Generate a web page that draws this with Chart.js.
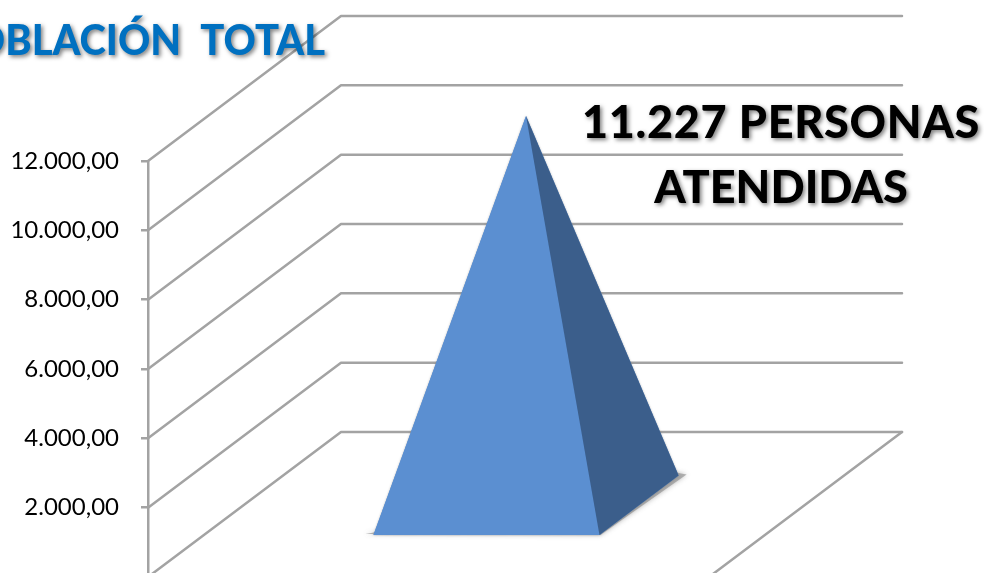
<!DOCTYPE html>
<html><head><meta charset="utf-8">
<style>html,body{margin:0;padding:0;background:#fff;overflow:hidden;width:984px;height:573px}
canvas{display:block}</style>
<script src="https://cdn.jsdelivr.net/npm/chart.js@4"></script>
</head><body><canvas id="c" width="984" height="573"></canvas>
<script>
const categories = ["Población total"];
const values = [11227];
const tickValues = [0, 2000, 4000, 6000, 8000, 10000, 12000];
const titleText = "POBLACIÓN  TOTAL";
const noteLines = ["11.227 PERSONAS", "ATENDIDAS"];
const gridColor = "#a3a3a3";
const depth = {dx: 193, dy: -145};
const baseDepth = [0.29, 0.7];
const axisMin = 115;
const axisMax = 12000;

const scene = {
  id: "scene",
  beforeDatasetsDraw(chart) {
    const {ctx, chartArea: a, scales: {y}} = chart;
    ctx.save();
    ctx.strokeStyle = gridColor; ctx.lineWidth = 2.5; ctx.lineCap = "round"; ctx.lineJoin = "round";
    tickValues.forEach(v => {
      const p = y.getPixelForValue(v);
      ctx.beginPath();
      ctx.moveTo(a.left, p);
      ctx.lineTo(a.left + depth.dx, p + depth.dy);
      ctx.lineTo(a.right + depth.dx, p + depth.dy);
      ctx.stroke();
    });
    const b = y.getPixelForValue(0);
    ctx.beginPath();
    ctx.moveTo(a.right + depth.dx, b + depth.dy);
    ctx.lineTo(a.right, b);
    ctx.stroke();
    ctx.restore();
  },
  afterDatasetsDraw(chart) {
    const {ctx, scales: {y}} = chart;
    const bar = chart.getDatasetMeta(0).data[0];
    const b = y.getPixelForValue(0), half = bar.width / 2;
    const at = (dx, d, py) => [bar.x + 2 + dx + depth.dx * d, py + depth.dy * d];
    const fl = at(-half, baseDepth[0], b), fr = at(half, baseDepth[0], b), br = at(half, baseDepth[1], b);
    const apex = at(0, (baseDepth[0] + baseDepth[1]) / 2, y.getPixelForValue(values[0]));
    const poly = (pts, fill) => {
      ctx.beginPath(); pts.forEach((p, i) => i ? ctx.lineTo(p[0], p[1]) : ctx.moveTo(p[0], p[1]));
      ctx.closePath(); ctx.fillStyle = fill; ctx.fill();
    };
    ctx.save();
    ctx.shadowColor = "rgba(90,90,90,.6)"; ctx.shadowBlur = 5;
    poly([[fl[0] - 8, fl[1] - 1], [fr[0] + 1, fr[1]], [br[0] + 8, br[1] - 1], [br[0] - 30, br[1] - 8], [fl[0] + 30, fl[1] - 8]], "rgba(150,150,150,.7)");
    ctx.shadowColor = "rgba(90,90,90,.5)"; ctx.shadowBlur = 2;
    poly([fl, fr, br, apex], "#5b8fd1");
    ctx.shadowColor = "transparent";
    poly([fl, fr, apex], "#5b8fd1");
    poly([fr, br, apex], "#3b5e8b");
    ctx.restore();

    ctx.save();
    ctx.textBaseline = "alphabetic";
    ctx.shadowColor = "rgba(0,0,0,.5)"; ctx.shadowBlur = 4; ctx.shadowOffsetX = 2; ctx.shadowOffsetY = 2;
    ctx.save();
    ctx.translate(325, 55); ctx.scale(0.95, 1);
    ctx.font = "900 42px Lato, Carlito, sans-serif"; ctx.fillStyle = "#0070c0"; ctx.textAlign = "right";
    ctx.fillText(titleText, 0, 0);
    ctx.restore();
    ctx.font = "900 45px Lato, Carlito, sans-serif"; ctx.fillStyle = "#000"; ctx.textAlign = "center";
    ctx.letterSpacing = "0.7px";
    ctx.fillText(noteLines[0], 781, 138);
    ctx.letterSpacing = "0px";
    ctx.fillText(noteLines[1], 781, 203);
    ctx.restore();
  }
};

new Chart(document.getElementById("c"), {
  type: "bar",
  data: {labels: categories, datasets: [{data: values, backgroundColor: "transparent", borderWidth: 0,
    categoryPercentage: 1, barPercentage: 226 / 561}]},
  options: {
    responsive: false, animation: false,
    layout: {padding: {left: 0, right: 984 - 709, top: 161, bottom: 0}},
    plugins: {legend: {display: false}, tooltip: {enabled: false}, title: {display: false}},
    scales: {
      x: {display: false},
      y: {min: axisMin, max: axisMax, afterFit(s) { s.width = 148; s.paddingBottom = 0; },
        afterBuildTicks(s) { s.ticks = tickValues.filter(v => v >= axisMin).map(value => ({value})); },
        border: {color: gridColor, width: 2.5},
        grid: {drawOnChartArea: false, color: gridColor, lineWidth: 2.5, tickLength: 7},
        ticks: {color: "#000", padding: 22, font: {family: "Lato, Carlito, sans-serif", size: 24},
          callback: v => v.toLocaleString("es-ES", {minimumFractionDigits: 2, useGrouping: "always"})}
      }
    }
  },
  plugins: [scene]
});
</script></body></html>
